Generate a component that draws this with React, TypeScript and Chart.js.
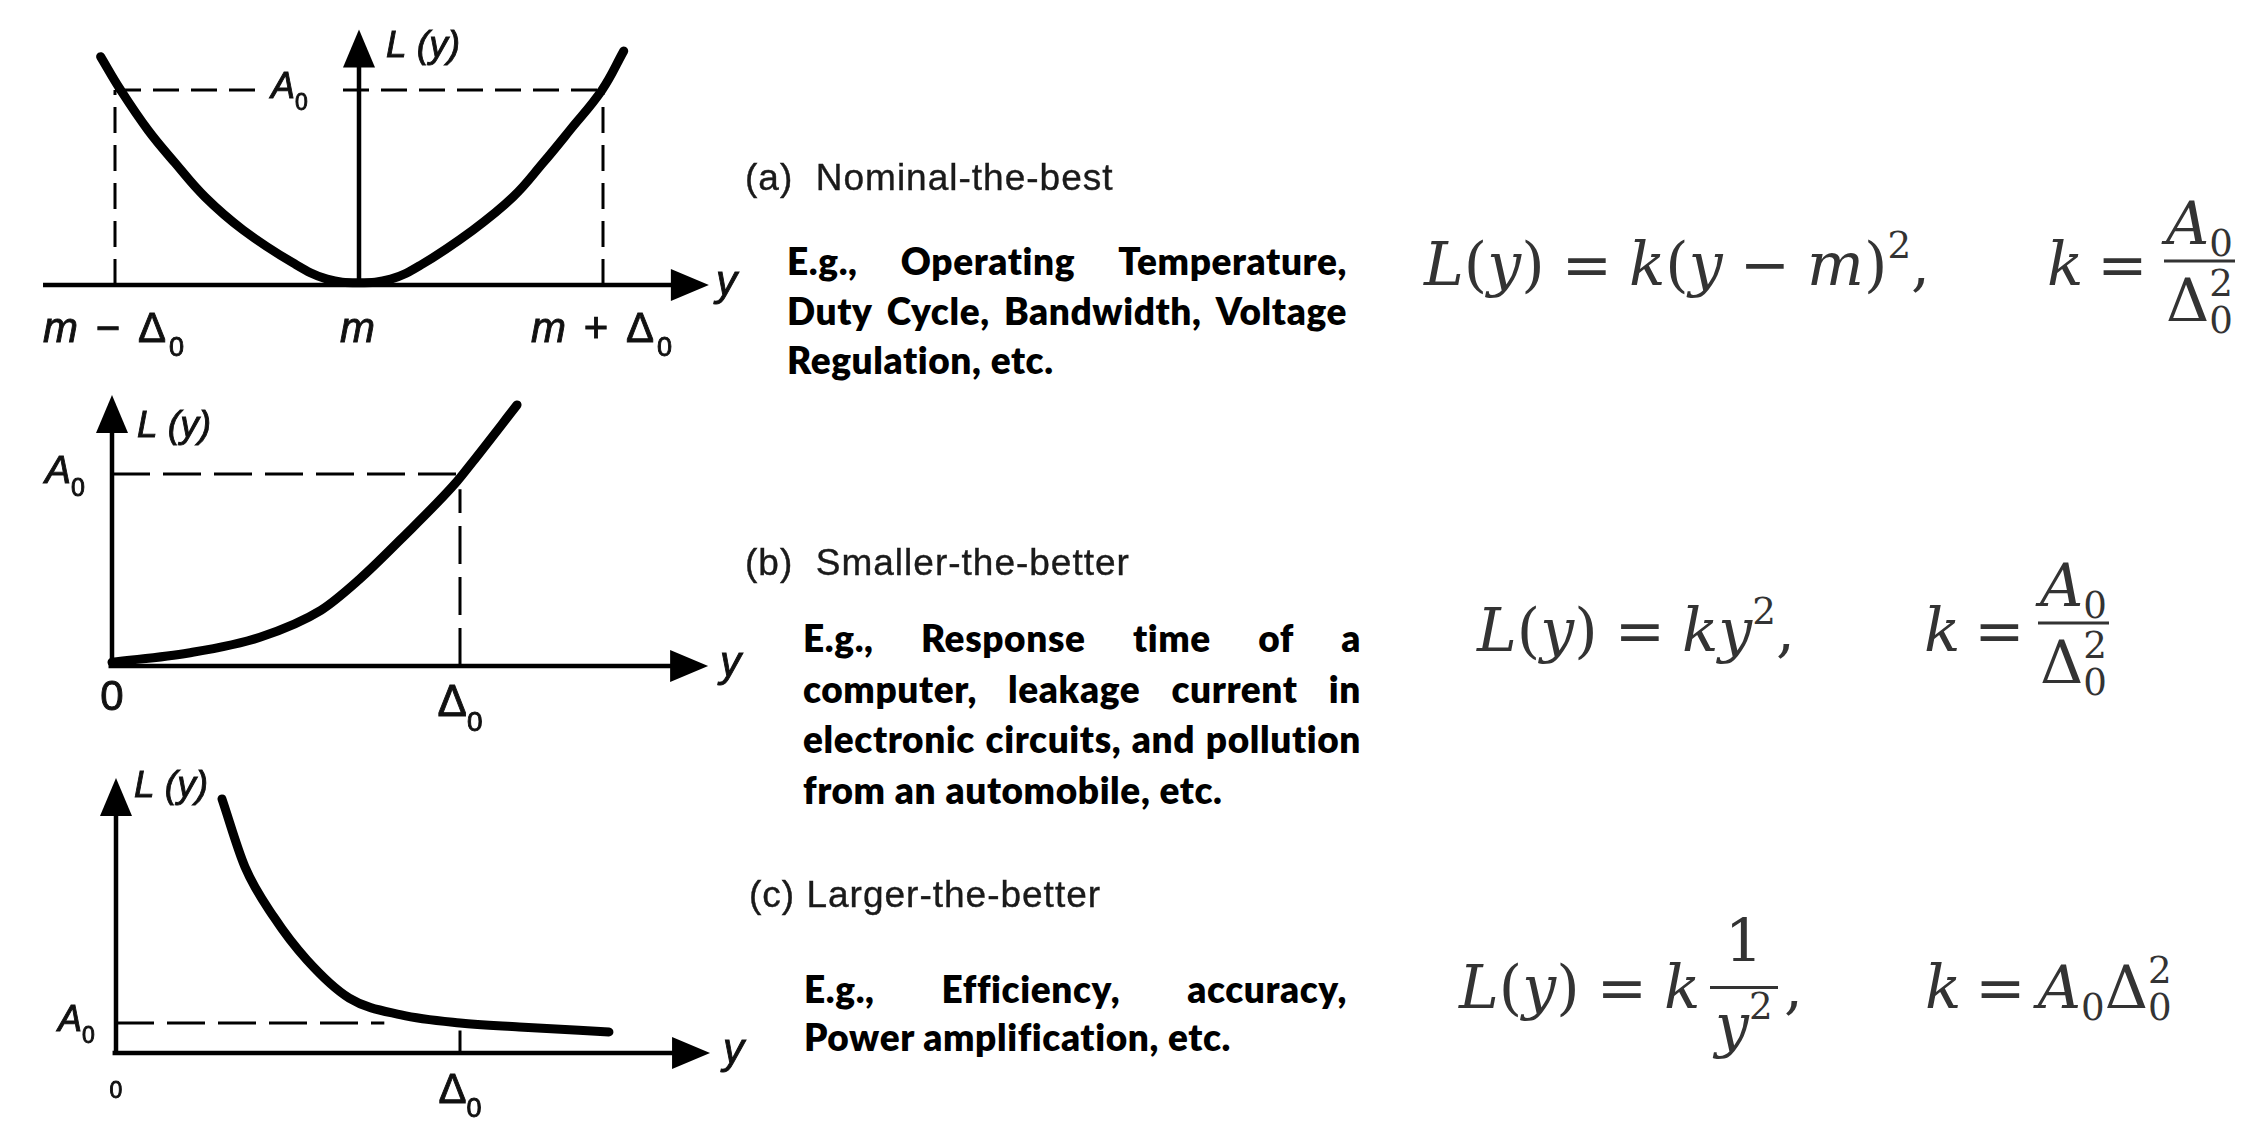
import React, { useEffect, useRef } from 'react';
import { Chart, registerables } from 'chart.js';

Chart.register(...registerables);

// ---------------- DATA ----------------
// deviation y in units of Δ0 (m = 0), loss L(y) in units of A0
const thresholdLoss = 1; // A0
const thresholdDev = 1; // Δ0

// (a) Nominal-the-best
const nominalDev = [-1.059, -0.977, -0.865, -0.754, -0.631, -0.475, -0.27, -0.131, 0, 0.13, 0.25, 0.467, 0.631, 0.754, 0.865, 0.996, 1.085];
const nominalLoss = [1.171, 1.0, 0.795, 0.626, 0.451, 0.282, 0.113, 0.03, 0.012, 0.03, 0.1, 0.282, 0.451, 0.626, 0.795, 1.0, 1.2];
const nominalTickValues = [-1, 0, 1];
const nominalTickLabels = ['m − Δ_0', 'm', 'm + Δ_0'];

// (b) Smaller-the-better
const smallerDev = [0, 0.22, 0.425, 0.6, 0.71, 0.83, 0.986, 1.035, 1.164];
const smallerLoss = [0.02, 0.068, 0.15, 0.29, 0.45, 0.66, 0.95, 1.06, 1.36];
const smallerTickValues = [0, 1];
const smallerTickLabels = ['0', 'Δ_0'];

// (c) Larger-the-better
const largerDev = [0.308, 0.375, 0.459, 0.555, 0.678, 0.829, 1.0, 1.172, 1.433];
const largerLoss = [8.47, 6.2, 4.53, 3.1, 1.83, 1.27, 1.0, 0.87, 0.7];
const largerTickValues = [0, 1];
const largerTickLabels = ['0', 'Δ_0'];

// text
const headingA = '(a)  Nominal-the-best';
const headingB = '(b)  Smaller-the-better';
const headingC = '(c) Larger-the-better';
const paraA = ['E.g., Operating Temperature,', 'Duty Cycle, Bandwidth, Voltage', 'Regulation, etc.'];
const paraB = ['E.g., Response time of a', 'computer, leakage current in', 'electronic circuits, and pollution', 'from an automobile, etc.'];
const paraC = ['E.g., Efficiency, accuracy,', 'Power amplification, etc.'];

// ---------------- PANEL LAYOUT ----------------
type Label = { text: string; px: number; py: number; size: number; knockout?: [number, number, number, number] };
type Guide = { from: [number, number]; to: [number, number]; dash: number[]; width: number };
interface PanelSpec {
  left: number; top: number; width: number; height: number;
  originX: number; originY: number; pxPerX: number; pxPerY: number;
  xAxisFrom: number; xAxisTo: number; yAxisTo: number;
  curveX: number[]; curveY: number[]; monotone: boolean;
  guides: Guide[];
  tickValues: number[]; tickLabels: string[]; tickSizes: number[]; tickOffsets: number[]; tickSpacing: number;
  labels: Label[];
}

const panels: PanelSpec[] = [
  {
    left: 0, top: 0, width: 760, height: 372,
    originX: 359, originY: 285, pxPerX: 244, pxPerY: 195,
    xAxisFrom: -1.295, xAxisTo: 1.434, yAxisTo: 1.31,
    curveX: nominalDev, curveY: nominalLoss, monotone: false,
    guides: [
      { from: [-thresholdDev, thresholdLoss], to: [thresholdDev, thresholdLoss], dash: [26, 12], width: 3 },
      { from: [-thresholdDev, 0], to: [-thresholdDev, thresholdLoss], dash: [26, 12], width: 3 },
      { from: [thresholdDev, 0], to: [thresholdDev, thresholdLoss], dash: [26, 12], width: 3 },
    ],
    tickValues: nominalTickValues, tickLabels: nominalTickLabels, tickSizes: [42, 42, 42], tickOffsets: [57, 57, 57], tickSpacing: 3,
    labels: [
      { text: 'L (y)', px: 386, py: 57, size: 37 },
      { text: 'A_0', px: 271, py: 98, size: 36, knockout: [263, 78, 74, 24] },
      { text: 'y', px: 716, py: 295, size: 42 },
    ],
  },
  {
    left: 0, top: 375, width: 760, height: 375,
    originX: 112, originY: 291, pxPerX: 348, pxPerY: 192,
    xAxisFrom: -0.01, xAxisTo: 1.713, yAxisTo: 1.411,
    curveX: smallerDev, curveY: smallerLoss, monotone: true,
    guides: [
      { from: [0, thresholdLoss], to: [thresholdDev, thresholdLoss], dash: [38, 13], width: 3 },
      { from: [thresholdDev, 0], to: [thresholdDev, 0.92], dash: [38, 13], width: 3 },
    ],
    tickValues: smallerTickValues, tickLabels: smallerTickLabels, tickSizes: [42, 44], tickOffsets: [44, 50], tickSpacing: 0,
    labels: [
      { text: 'L (y)', px: 137, py: 62, size: 37 },
      { text: 'A_0', px: 45, py: 108, size: 39 },
      { text: 'y', px: 720, py: 301, size: 42 },
    ],
  },
  {
    left: 0, top: 750, width: 760, height: 376,
    originX: 116, originY: 303, pxPerX: 344, pxPerY: 30,
    xAxisFrom: -0.01, xAxisTo: 1.727, yAxisTo: 9.17,
    curveX: largerDev, curveY: largerLoss, monotone: true,
    guides: [
      { from: [0, thresholdLoss], to: [0.78, thresholdLoss], dash: [38, 13], width: 3 },
      { from: [thresholdDev, 0], to: [thresholdDev, 0.75], dash: [], width: 3 },
    ],
    tickValues: largerTickValues, tickLabels: largerTickLabels, tickSizes: [23, 42], tickOffsets: [45, 50], tickSpacing: 0,
    labels: [
      { text: 'L (y)', px: 134, py: 47, size: 37 },
      { text: 'A_0', px: 58, py: 281, size: 36 },
      { text: 'y', px: 723, py: 313, size: 42 },
    ],
  },
];

const SANS = '"Liberation Sans", Arial, Helvetica, sans-serif';

function drawRich(ctx: CanvasRenderingContext2D, text: string, x: number, y: number, size: number, align: 'left' | 'center' = 'left', spacing = 0) {
  const runs: { t: string; sub: boolean; it: boolean }[] = [];
  const push = (ch: string, sub: boolean) => {
    const it = !sub && !/[Δ0-9−+ ]/.test(ch);
    const last = runs[runs.length - 1];
    if (last && last.sub === sub && last.it === it) last.t += ch;
    else runs.push({ t: ch, sub, it });
  };
  for (let i = 0; i < text.length; i++) {
    if (text[i] === '_' && i + 1 < text.length) { push(text[i + 1], true); i++; }
    else push(text[i], false);
  }
  const fontOf = (r: { sub: boolean; it: boolean }) =>
    r.sub ? `${Math.round(size * 0.64)}px ${SANS}` : `${r.it ? 'italic ' : ''}${size}px ${SANS}`;
  (ctx as any).letterSpacing = `${spacing}px`;
  let w = 0;
  for (const r of runs) { ctx.font = fontOf(r); w += ctx.measureText(r.t).width; }
  let cx = align === 'center' ? x - w / 2 : x;
  ctx.textAlign = 'left';
  ctx.textBaseline = 'alphabetic';
  ctx.lineWidth = 0.9;
  ctx.strokeStyle = ctx.fillStyle as string;
  for (const r of runs) {
    ctx.font = fontOf(r);
    const yy = r.sub ? y + size * 0.33 : y;
    ctx.fillText(r.t, cx, yy);
    ctx.strokeText(r.t, cx, yy);
    cx += ctx.measureText(r.t).width;
  }
  (ctx as any).letterSpacing = '0px';
}

function makePlugin(p: PanelSpec) {
  return {
    id: 'lossAxes',
    beforeDatasetsDraw(chart: any) {
      const { ctx, scales } = chart;
      const xs = scales.x, ys = scales.y;
      const ox = xs.getPixelForValue(0);
      const oy = ys.getPixelForValue(0);
      const x0 = xs.getPixelForValue(p.xAxisFrom);
      const x1 = xs.getPixelForValue(p.xAxisTo);
      const y1 = ys.getPixelForValue(p.yAxisTo);
      ctx.save();
      ctx.strokeStyle = '#000';
      ctx.fillStyle = '#000';
      ctx.lineWidth = 4.5;
      ctx.beginPath();
      ctx.moveTo(x0, oy);
      ctx.lineTo(x1 - 30, oy);
      ctx.stroke();
      ctx.beginPath();
      ctx.moveTo(ox, oy + 2);
      ctx.lineTo(ox, y1 + 30);
      ctx.stroke();
      ctx.beginPath();
      ctx.moveTo(x1, oy);
      ctx.lineTo(x1 - 38, oy - 16);
      ctx.lineTo(x1 - 38, oy + 16);
      ctx.closePath();
      ctx.fill();
      ctx.beginPath();
      ctx.moveTo(ox, y1);
      ctx.lineTo(ox - 16, y1 + 38);
      ctx.lineTo(ox + 16, y1 + 38);
      ctx.closePath();
      ctx.fill();
      ctx.restore();
    },
    afterDatasetsDraw(chart: any) {
      const { ctx, scales } = chart;
      const xs = scales.x, ys = scales.y;
      const oy = ys.getPixelForValue(0);
      ctx.save();
      ctx.fillStyle = '#111';
      p.tickValues.forEach((v, i) => {
        drawRich(ctx, p.tickLabels[i], xs.getPixelForValue(v), oy + p.tickOffsets[i], p.tickSizes[i], 'center', p.tickSpacing);
      });
      for (const l of p.labels) {
        if (l.knockout) {
          ctx.fillStyle = '#fff';
          ctx.fillRect(l.knockout[0], l.knockout[1], l.knockout[2], l.knockout[3]);
          ctx.fillStyle = '#111';
        }
        drawRich(ctx, l.text, l.px, l.py, l.size, 'left');
      }
      ctx.restore();
    },
  };
}

function LossPanel({ spec }: { spec: PanelSpec }) {
  const ref = useRef<HTMLCanvasElement | null>(null);
  useEffect(() => {
    if (!ref.current) return;
    const p = spec;
    const datasets: any[] = [
      {
        data: p.curveX.map((x, i) => ({ x, y: p.curveY[i] })),
        borderColor: '#000',
        borderWidth: 9,
        cubicInterpolationMode: p.monotone ? 'monotone' : 'default',
        tension: 0.4,
        pointRadius: 0,
        borderCapStyle: 'round',
        borderJoinStyle: 'round',
        fill: false,
        order: 0,
      },
      ...p.guides.map((g) => ({
        data: [{ x: g.from[0], y: g.from[1] }, { x: g.to[0], y: g.to[1] }],
        borderColor: '#000',
        borderWidth: g.width,
        borderDash: g.dash,
        tension: 0,
        pointRadius: 0,
        fill: false,
        order: 1,
      })),
    ];
    const chart = new Chart(ref.current, {
      type: 'line',
      data: { datasets },
      options: {
        animation: false,
        responsive: false,
        maintainAspectRatio: false,
        devicePixelRatio: 1,
        events: [],
        layout: { padding: 0 },
        plugins: { legend: { display: false }, tooltip: { enabled: false } },
        scales: {
          x: { type: 'linear', display: false, min: -p.originX / p.pxPerX, max: (p.width - p.originX) / p.pxPerX },
          y: { type: 'linear', display: false, min: (p.originY - p.height) / p.pxPerY, max: p.originY / p.pxPerY },
        },
      },
      plugins: [makePlugin(p)],
    } as any);
    return () => chart.destroy();
  }, [spec]);
  return (
    <canvas
      ref={ref}
      width={spec.width}
      height={spec.height}
      style={{ position: 'absolute', left: spec.left, top: spec.top, width: spec.width, height: spec.height }}
    />
  );
}

// ---------------- TEXT HELPERS ----------------
const headingStyle: React.CSSProperties = {
  position: 'absolute', fontFamily: SANS, fontSize: 37, letterSpacing: '1px', color: '#1a1a1a',
  whiteSpace: 'pre', lineHeight: '40px', WebkitTextStroke: '0.4px #1a1a1a',
};

function Paragraph({ lines, left, top, width, gap }: { lines: string[]; left: number; top: number; width: number; gap: number }) {
  return (
    <>
      {lines.map((line, i) => {
        const last = i === lines.length - 1;
        const style: React.CSSProperties = {
          position: 'absolute', left, top: top + i * gap, width, height: 50, lineHeight: '50px',
          fontFamily: 'Lato, "Open Sans", sans-serif', fontWeight: 800, fontSize: 37, letterSpacing: '0.6px',
          color: '#000', whiteSpace: 'pre',
        };
        if (last) return <div key={i} style={style}>{line}</div>;
        return (
          <div key={i} style={{ ...style, display: 'flex', justifyContent: 'space-between' }}>
            {line.split(' ').map((w, j) => <span key={j}>{w}</span>)}
          </div>
        );
      })}
    </>
  );
}

const FS = 60;
const MATH = '"DejaVu Serif", "Liberation Serif", serif';
const mathBase: React.CSSProperties = { position: 'absolute', fontFamily: MATH, fontSize: FS, lineHeight: 1.2, color: '#333', whiteSpace: 'pre', wordSpacing: '-2px' };
const V = ({ c }: { c: string }) => <span style={{ fontStyle: 'italic' }}>{c}</span>;
const Eq = () => <span style={{ margin: '0 12px 0 14px' }}>=</span>;
const Sup = ({ c }: { c: string }) => <span style={{ fontSize: FS * 0.62, position: 'relative', top: -FS * 0.45 }}>{c}</span>;
const Sub = ({ c }: { c: string }) => <span style={{ fontSize: FS * 0.62, position: 'relative', top: FS * 0.2 }}>{c}</span>;
const SubSup = ({ sub, sup }: { sub: string; sup: string }) => (
  <>
    <span style={{ fontSize: FS * 0.62, position: 'relative', top: FS * 0.2 }}>{sub}</span>
    <span style={{ fontSize: FS * 0.62, position: 'relative', top: -FS * 0.42, marginLeft: -FS * 0.62 * 0.636 }}>{sup}</span>
  </>
);
const Piece = ({ left, cy, children }: { left: number; cy: number; children: React.ReactNode }) => (
  <div style={{ ...mathBase, left, top: cy, transform: 'translateY(-50%)' }}>{children}</div>
);
const Frac = ({ left, cy, num, den, gapTop = 4, gapBottom = 4, pad = 2 }: {
  left: number; cy: number; num: React.ReactNode; den: React.ReactNode; gapTop?: number; gapBottom?: number; pad?: number;
}) => (
  <div style={{ ...mathBase, left, top: cy, transform: 'translateY(-50%)', display: 'flex', flexDirection: 'column', alignItems: 'center', lineHeight: 1.1 }}>
    <div style={{ padding: `0 ${pad}px` }}>{num}</div>
    <div style={{ alignSelf: 'stretch', height: 3, background: '#333', marginTop: gapTop, marginBottom: gapBottom }} />
    <div style={{ padding: `0 ${pad}px` }}>{den}</div>
  </div>
);

export default function App() {
  return (
    <div style={{ position: 'absolute', left: 0, top: 0, width: 2260, height: 1126, background: '#fff', overflow: 'hidden' }}>
      {panels.map((p, i) => <LossPanel key={i} spec={p} />)}

      <div style={{ ...headingStyle, left: 745, top: 158 }}>{headingA}</div>
      <div style={{ ...headingStyle, left: 745, top: 543 }}>{headingB}</div>
      <div style={{ ...headingStyle, left: 749, top: 875 }}>{headingC}</div>

      <Paragraph lines={paraA} left={787} top={236} width={560} gap={49.5} />
      <Paragraph lines={paraB} left={803} top={613} width={558} gap={50.5} />
      <Paragraph lines={paraC} left={804} top={964} width={543} gap={48} />

      {/* (a) */}
      <Piece left={1424} cy={264}>
        <V c="L" />(<V c="y" />) = <V c="k" />(<V c="y" /> − <V c="m" />)<Sup c="2" />,
      </Piece>
      <Piece left={2047} cy={264}><V c="k" /><Eq /></Piece>
      <Frac left={2164} cy={261} num={<><V c="A" /><Sub c="0" /></>} den={<>Δ<SubSup sub="0" sup="2" /></>} />

      {/* (b) */}
      <Piece left={1477} cy={630}>
        <V c="L" />(<V c="y" />) = <V c="k" /><V c="y" /><Sup c="2" />,
      </Piece>
      <Piece left={1924} cy={630}><V c="k" /><Eq /></Piece>
      <Frac left={2038} cy={623} num={<><V c="A" /><Sub c="0" /></>} den={<>Δ<SubSup sub="0" sup="2" /></>} />

      {/* (c) */}
      <Piece left={1459} cy={987}>
        <V c="L" />(<V c="y" />) = <V c="k" />
      </Piece>
      <Frac left={1710} cy={983} gapTop={12} gapBottom={3} pad={5} num={<>1</>} den={<><V c="y" /><Sup c="2" /></>} />
      <Piece left={1784} cy={987}>,</Piece>
      <Piece left={1925} cy={987}>
        <V c="k" /><Eq /><V c="A" /><Sub c="0" />Δ<SubSup sub="0" sup="2" />
      </Piece>
    </div>
  );
}
